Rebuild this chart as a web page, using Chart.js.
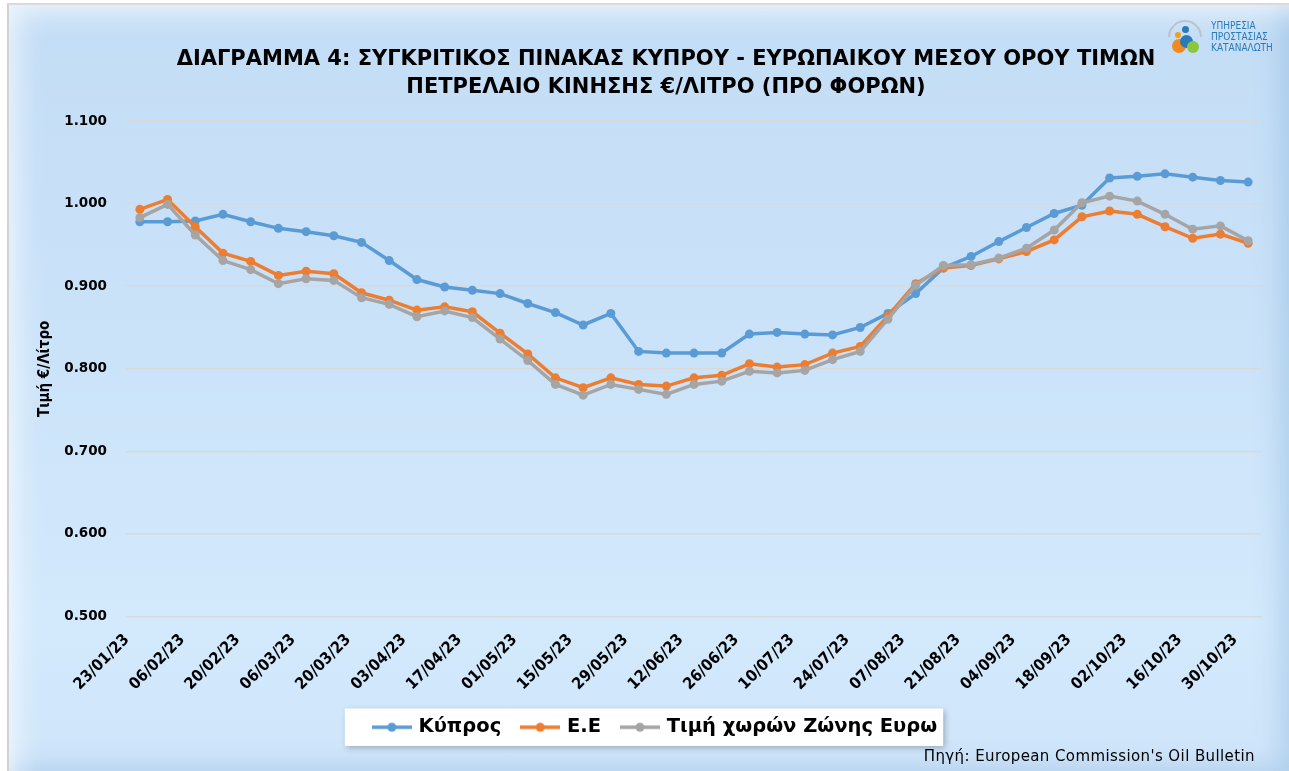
<!DOCTYPE html>
<html>
<head>
<meta charset="utf-8">
<script src="https://cdn.jsdelivr.net/npm/chart.js@4.4.0/dist/chart.umd.min.js"></script>
<style>
  body { margin: 0; background: #fff; width: 1289px; height: 771px; overflow: hidden; position: relative; }
  #frame {
    position: absolute; left: 7px; top: 3px; width: 1283px; height: 770px;
    border-left: 2px solid #d2d2d2; border-top: 2px solid #dadada;
    background: linear-gradient(180deg, #c3ddf6 0%, #cbe3f9 45%, #d3e9fc 80%, #cfe5fa 100%);
    box-shadow: inset 28px 28px 30px -22px rgba(255,255,255,.75), inset -30px -26px 24px -18px rgba(120,165,210,.35);
  }
  #chart { position: absolute; left: 0; top: 0; }
  #title {
    position: absolute; left: 0; width: 1332px; top: 44px; text-align: center;
    font: bold 21px 'DejaVu Sans', sans-serif; line-height: 28px; color: #000;
  }
  #source {
    position: absolute; right: 34px; top: 747px; letter-spacing: 0.4px;
    font: 15px 'DejaVu Sans', sans-serif; color: #000;
  }
  #logo { position: absolute; left: 1168px; top: 18px; width: 110px; height: 40px; }
  #logo .t { position: absolute; left: 43px; top: 2px; font: 10px 'DejaVu Sans Condensed', sans-serif; line-height: 11px; color: #2a7ab8; }
  #logo .c { position: absolute; border-radius: 50%; }
</style>
</head>
<body>
<div id="frame"></div>
<canvas id="chart" width="1289" height="771"></canvas>
<div id="title">ΔΙΑΓΡΑΜΜΑ 4: ΣΥΓΚΡΙΤΙΚΟΣ ΠΙΝΑΚΑΣ ΚΥΠΡΟΥ - ΕΥΡΩΠΑΙΚΟΥ ΜΕΣΟΥ ΟΡΟΥ ΤΙΜΩΝ<br>ΠΕΤΡΕΛΑΙΟ ΚΙΝΗΣΗΣ €/ΛΙΤΡΟ (ΠΡΟ ΦΟΡΩΝ)</div>
<div id="source">Πηγή: European Commission's Oil Bulletin</div>
<div id="logo">
  <div class="c" style="left:0;top:2px;width:34px;height:34px;border:2px solid #b9c3cc;border-bottom-color:transparent;border-right-color:transparent;transform:rotate(45deg);box-sizing:border-box"></div>
  <div class="c" style="left:14px;top:8px;width:7px;height:7px;background:#2a7ab8"></div>
  <div class="c" style="left:7px;top:14px;width:6px;height:6px;background:#f0a020"></div>
  <div class="c" style="left:4px;top:21px;width:14px;height:14px;background:#f28a1e"></div>
  <div class="c" style="left:12px;top:17px;width:13px;height:13px;background:#2a7ab8"></div>
  <div class="c" style="left:19px;top:23px;width:12px;height:12px;background:#8cc63f"></div>
  <div class="t">ΥΠΗΡΕΣΙΑ<br>ΠΡΟΣΤΑΣΙΑΣ<br>ΚΑΤΑΝΑΛΩΤΗ</div>
</div>
<script>
// weekly dates (Oil Bulletin), every second one is printed on the axis
const weeks = ['23/01/23','30/01/23','06/02/23','13/02/23','20/02/23','27/02/23','06/03/23','13/03/23',
  '20/03/23','27/03/23','03/04/23','10/04/23','17/04/23','24/04/23','01/05/23','08/05/23','15/05/23',
  '22/05/23','29/05/23','05/06/23','12/06/23','19/06/23','26/06/23','03/07/23','10/07/23','17/07/23',
  '24/07/23','31/07/23','07/08/23','14/08/23','21/08/23','28/08/23','04/09/23','11/09/23','18/09/23',
  '25/09/23','02/10/23','09/10/23','16/10/23','23/10/23','30/10/23'];

const cyprus = [0.978,0.978,0.979,0.987,0.978,0.970,0.966,0.961,0.953,0.931,0.908,0.899,0.895,0.891,
  0.879,0.868,0.853,0.867,0.821,0.819,0.819,0.819,0.842,0.844,0.842,0.841,0.850,0.867,0.891,0.922,
  0.936,0.954,0.971,0.988,0.998,1.031,1.033,1.036,1.032,1.028,1.026];

const eu = [0.993,1.005,0.972,0.940,0.930,0.913,0.918,0.915,0.892,0.883,0.871,0.875,0.869,0.843,
  0.818,0.789,0.777,0.789,0.781,0.779,0.789,0.792,0.806,0.802,0.805,0.819,0.827,0.864,0.903,0.922,
  0.925,0.933,0.942,0.956,0.984,0.991,0.987,0.972,0.958,0.963,0.952];

const euroArea = [0.983,0.999,0.962,0.931,0.920,0.903,0.909,0.907,0.886,0.878,0.863,0.870,0.862,0.836,
  0.810,0.781,0.768,0.781,0.775,0.769,0.781,0.785,0.797,0.795,0.798,0.811,0.821,0.860,0.901,0.925,
  0.926,0.934,0.946,0.968,1.001,1.009,1.003,0.987,0.969,0.973,0.955];

const seriesNames = ['Κύπρος', 'Ε.Ε', 'Τιμή χωρών Ζώνης Ευρω'];
const colors = ['#5b9bd5', '#ed7d31', '#a5a5a5'];

const narrow = "'DejaVu Sans Condensed', 'Liberation Sans Narrow', sans-serif";

// line + dot marker, like the Excel legend
function marker(color) {
  const c = document.createElement('canvas');
  c.width = 40; c.height = 12;
  const g = c.getContext('2d');
  g.strokeStyle = color; g.lineWidth = 3.5;
  g.beginPath(); g.moveTo(0, 6); g.lineTo(40, 6); g.stroke();
  g.fillStyle = color;
  g.beginPath(); g.arc(20, 6, 4.5, 0, Math.PI * 2); g.fill();
  return c;
}

// white box with a soft shadow behind the legend
const legendBox = {
  id: 'legendBox',
  beforeDraw(chart) {
    const hb = chart.legend && chart.legend.legendHitBoxes;
    if (!hb || !hb.length) return;
    const left = Math.min(...hb.map(b => b.left)) - 30;
    const right = Math.max(...hb.map(b => b.left + b.width)) + 6;
    const top = hb[0].top - 9;
    const h = hb[0].height + 18;
    const ctx = chart.ctx;
    ctx.save();
    ctx.shadowColor = 'rgba(0,0,0,0.25)';
    ctx.shadowBlur = 6;
    ctx.shadowOffsetX = 2;
    ctx.shadowOffsetY = 2;
    ctx.fillStyle = '#fff';
    ctx.fillRect(left, top, right - left, h);
    ctx.restore();
  }
};

const makeSet = (label, data, color, order) => ({
  label, data, order,
  borderColor: color, backgroundColor: color,
  borderWidth: 3.5, pointRadius: 4.5, pointHoverRadius: 4.5,
  pointBackgroundColor: color, pointBorderColor: color, pointBorderWidth: 0,
  tension: 0, fill: false
});

new Chart(document.getElementById('chart'), {
  type: 'line',
  data: {
    labels: weeks,
    datasets: [
      makeSet(seriesNames[0], cyprus, colors[0], 2),
      makeSet(seriesNames[1], eu, colors[1], 1),
      makeSet(seriesNames[2], euroArea, colors[2], 0)
    ]
  },
  options: {
    responsive: false,
    animation: false,
    layout: { padding: { left: 50, right: 27, top: 121, bottom: 24 } },
    plugins: {
      tooltip: { enabled: false },
      title: { display: false },
      legend: {
        position: 'bottom',
        labels: {
          usePointStyle: true,
          pointStyleWidth: 34,
          padding: 22,
          color: '#000',
          font: { family: "'DejaVu Sans', sans-serif", size: 19.5, weight: 'bold' },
          generateLabels: chart => chart.data.datasets.map((ds, i) => ({
            text: ds.label, datasetIndex: i, hidden: false,
            fillStyle: ds.borderColor, strokeStyle: ds.borderColor, lineWidth: 0,
            pointStyle: marker(ds.borderColor), fontColor: '#000'
          }))
        }
      }
    },
    scales: {
      x: {
        offset: true,
        grid: { display: false },
        border: { display: false },
        afterFit: s => { s.height = 79; },
        ticks: {
          autoSkip: false, maxRotation: 45, minRotation: 45,
          padding: 6, labelOffset: -13,
          color: '#000',
          font: { family: narrow, size: 16, weight: 'bold' },
          callback: function (v, i) { return i % 2 === 0 ? this.getLabelForValue(v) : ''; }
        }
      },
      y: {
        min: 0.5, max: 1.1,
        afterFit: s => { s.width = 76; },
        grid: { color: '#d9d9d9', lineWidth: 1.5, drawTicks: false },
        border: { display: false },
        ticks: {
          stepSize: 0.1, padding: 19, color: '#000',
          font: { family: "'DejaVu Sans', sans-serif", size: 13.5, weight: 'bold' },
          callback: v => v.toFixed(3)
        },
        title: {
          display: true, text: 'Τιμή €/Λίτρο', color: '#000',
          padding: { top: -14 },
          font: { family: narrow, size: 15, weight: 'bold' }
        }
      }
    }
  },
  plugins: [legendBox]
});
</script>
</body>
</html>
